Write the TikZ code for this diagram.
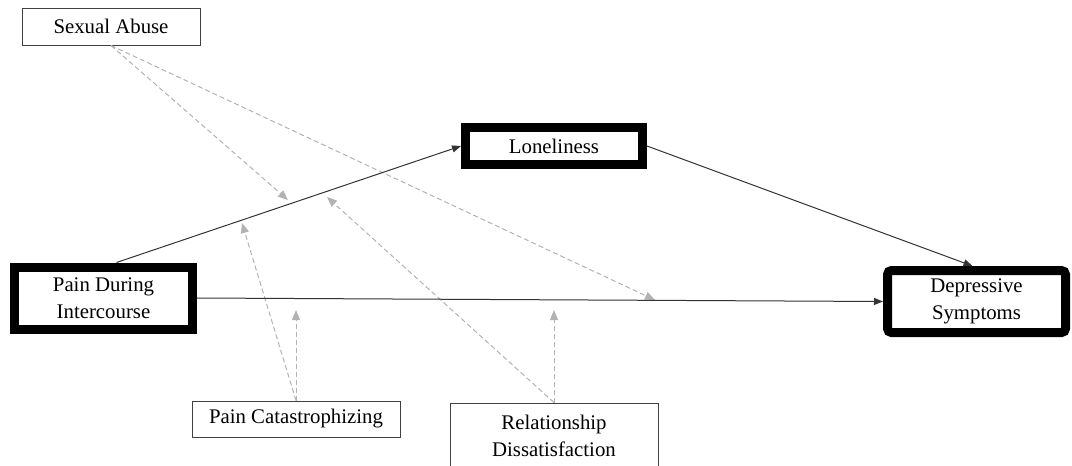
\documentclass[tikz,border=0pt]{standalone}
\usepackage{fontspec}
\setmainfont{Liberation Serif}
\usetikzlibrary{arrows.meta}
\begin{document}
\begin{tikzpicture}[x=1pt,y=-1pt,
  every node/.style={font=\fontsize{20.8}{27}\selectfont, align=center, inner sep=0pt},
  thinbox/.style={draw=black!75, line width=1pt, fill=white},
  thickbox/.style={draw=black, line width=9pt, fill=white},
  path/.style={draw=black!80, line width=1pt, -{Triangle[length=9pt,width=7pt]}},
  modpath/.style={draw=black!30, line width=1pt, dash pattern=on 5pt off 3pt, -{Triangle[length=10pt,width=8pt]}}]
\useasboundingbox (0,0) rectangle (1072,466);
% nodes
\node[thinbox, minimum width=178, minimum height=37] (sa) at (111,26.5) {Sexual Abuse};
\node[thickbox, minimum width=177, minimum height=37] (lone) at (554,146) {Loneliness};
\node[thickbox, minimum width=178, minimum height=62] (pain) at (103.5,298) {Pain During\\Intercourse};
\node[thickbox, rounded corners=4pt, minimum width=178, minimum height=62] (dep) at (976.5,301.5) {Depressive\\Symptoms};
\node[thinbox, minimum width=208, minimum height=36] (pc) at (296,419) {Pain Catastrophizing};
\node[thinbox, minimum width=208, minimum height=66] (rd) at (554,436) {Relationship\\Dissatisfaction};
% targets of moderation arrows
\coordinate (m1) at (288,200);
\coordinate (m2) at (655,300);
\coordinate (m3) at (242,223);
\coordinate (m4) at (296,310);
\coordinate (m5) at (327,197);
\coordinate (m6) at (554,310);
% moderation arrows
\draw[modpath] (sa.south) -- (m1);
\draw[modpath] (sa.south) -- (m2);
\draw[modpath] (pc.north) -- (m3);
\draw[modpath] (pc.north) -- (m4);
\draw[modpath] (rd.north) -- (m5);
\draw[modpath] (rd.north) -- (m6);
% main paths
\draw[path] ([xshift=13pt]pain.north) -- (lone.west);
\draw[path] (lone.east) -- ([xshift=-4pt]dep.north);
\draw[path] (pain.east) -- (dep.west);
\end{tikzpicture}
\end{document}
